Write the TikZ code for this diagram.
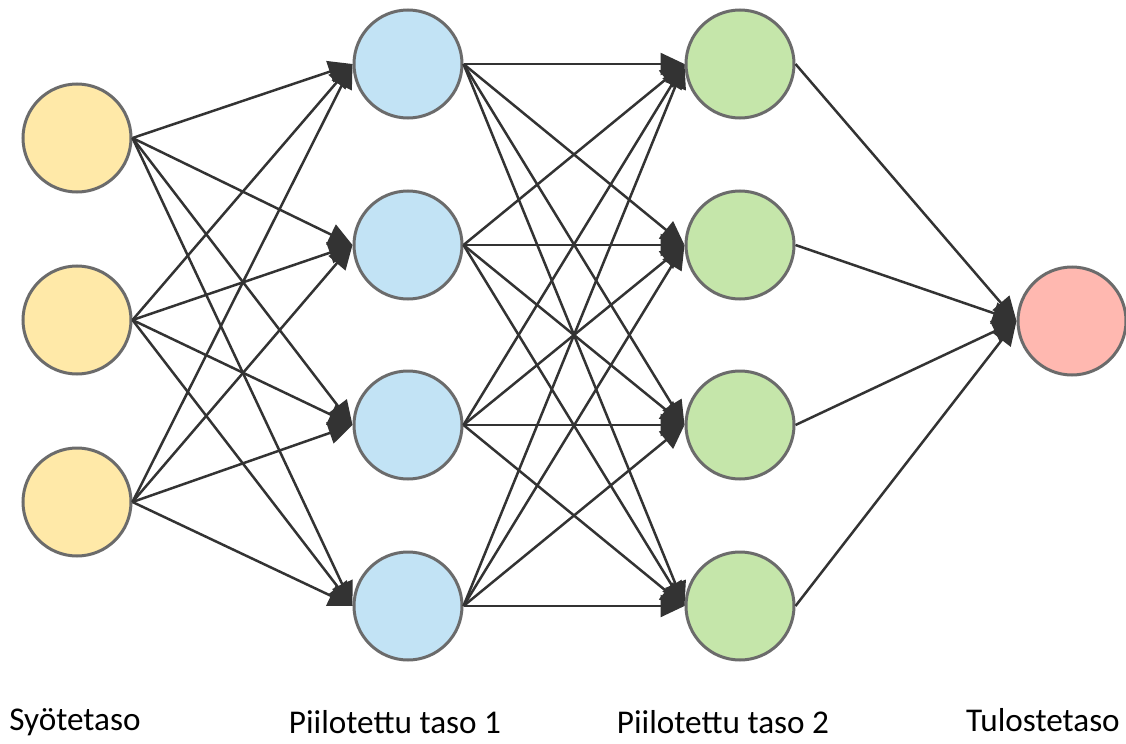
\documentclass[tikz,border=0pt]{standalone}
\usepackage{fontspec}
\setmainfont{Carlito}
\usetikzlibrary{arrows.meta}
\definecolor{inyellow}{HTML}{FFE9A8}
\definecolor{hidblue}{HTML}{C2E3F5}
\definecolor{hidgreen}{HTML}{C5E6AA}
\definecolor{outred}{HTML}{FFB8B0}
\definecolor{bordergray}{HTML}{6B6B6B}
\definecolor{edgedark}{HTML}{333333}
\tikzset{
  neuron/.style={circle, draw=bordergray, line width=1.5pt, minimum size=54pt, inner sep=0pt},
  inneuron/.style={neuron, fill=inyellow},
  h1neuron/.style={neuron, fill=hidblue},
  h2neuron/.style={neuron, fill=hidgreen},
  outneuron/.style={neuron, fill=outred},
  conn/.style={draw=edgedark, line width=1.25pt, -{Triangle[length=12pt,width=11pt]}},
  layerlabel/.style={font=\fontsize{16.6pt}{19pt}\selectfont, text=black, inner sep=0pt}
}
\begin{document}
\begin{tikzpicture}[x=0.5pt,y=-0.5pt]
\useasboundingbox (0,0) rectangle (1126,744);
% input layer
\node[inneuron] (i1) at (77,138) {};
\node[inneuron] (i2) at (77,320) {};
\node[inneuron] (i3) at (77,502) {};
% hidden layer 1
\node[h1neuron] (a1) at (408,64) {};
\node[h1neuron] (a2) at (408,245) {};
\node[h1neuron] (a3) at (408,425) {};
\node[h1neuron] (a4) at (408,606) {};
% hidden layer 2
\node[h2neuron] (b1) at (740,64) {};
\node[h2neuron] (b2) at (740,245) {};
\node[h2neuron] (b3) at (740,425) {};
\node[h2neuron] (b4) at (740,606) {};
% output
\node[outneuron] (o1) at (1072,321) {};
% connections
\foreach \s in {i1,i2,i3}
  \foreach \t in {a1,a2,a3,a4}
    \draw[conn] (\s.east) -- (\t.west);
\foreach \s in {a1,a2,a3,a4}
  \foreach \t in {b1,b2,b3,b4}
    \draw[conn] (\s.east) -- (\t.west);
\foreach \s in {b1,b2,b3,b4}
  \draw[conn] (\s.east) -- (o1.west);
% labels
\node[layerlabel] (l1) at (75,722) {Syötetaso};
\node[layerlabel] (l2) at (395,722) {Piilotettu taso 1};
\node[layerlabel] (l3) at (723,722) {Piilotettu taso 2};
\node[layerlabel] (l4) at (1043,720) {Tulostetaso};
\end{tikzpicture}
\end{document}
